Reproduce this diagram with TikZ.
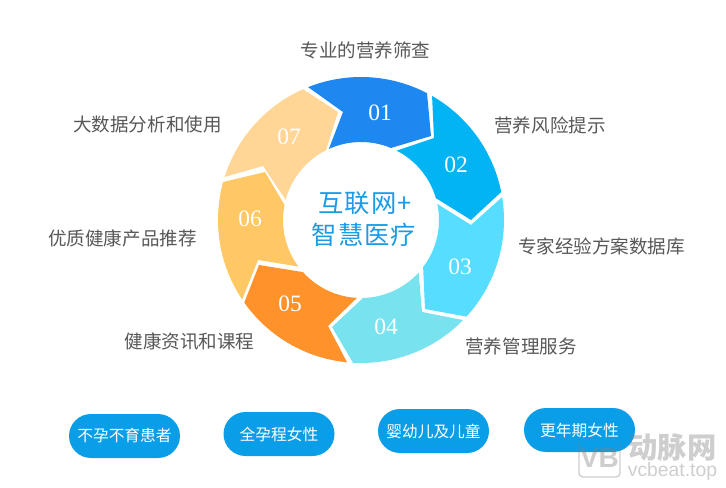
\documentclass[tikz,border=0pt]{standalone}
\usepackage{fontspec}
\setmainfont{Noto Sans CJK SC}
\newfontfamily\numfont{Liberation Serif}
\newfontfamily\latinfont{Liberation Sans}
\definecolor{txt}{HTML}{595757}
\definecolor{ctr}{HTML}{1A9BE6}
\definecolor{pill}{HTML}{0A9EE8}
\definecolor{sa}{HTML}{1E88F0}
\definecolor{sb}{HTML}{03B4F4}
\definecolor{sc}{HTML}{57DDFF}
\definecolor{sd}{HTML}{78E3EE}
\definecolor{se}{HTML}{FF922B}
\definecolor{sf}{HTML}{FFC864}
\definecolor{sg}{HTML}{FFD695}
\newcommand{\seg}[7]{\fill[#1] ([shift={(#2:143)}]c) arc[start angle=#2,end angle=#3,radius=143] -- #4 -- ([shift={(#5:78)}]c) arc[start angle=#5,end angle=#6,radius=78] -- #7 -- cycle;}
\tikzset{
 lab/.style={text=txt,inner sep=0pt,font=\fontsize{13.9pt}{16pt}\selectfont},
 num/.style={text=white,inner sep=0pt,font=\numfont\fontsize{17.6pt}{20pt}\selectfont},
 mid/.style={text=ctr,inner sep=0pt,font=\addfontfeature{LetterSpace=4}\fontsize{19pt}{22pt}\selectfont},
 pillbox/.style={fill=pill,rounded corners=22*.75pt,minimum width=111*.75pt,minimum height=44*.75pt,text=white,inner sep=0pt,font=\fontsize{11.8pt}{14pt}\selectfont},
 wmark/.style={text=black!50,opacity=.38,inner sep=0pt}
}
\begin{document}
\begin{tikzpicture}[x=.75pt,y=.75pt]
\useasboundingbox (0,0) rectangle (726,487);
\fill[white] (0,0) rectangle (726,487);
\coordinate (c) at (361,267);
\seg{sa}{111.7}{62.5}{(431,351)}{67.4}{114.3}{(343,375)}
\seg{sb}{60.2}{11.3}{(471,267)}{16.3}{62.8}{(434,349)}
\seg{sc}{9.2}{-42.5}{(425,178)}{-37.2}{11.9}{(471,262)}
\seg{sd}{-44.4}{-93.2}{(332,160)}{-88.5}{-42.4}{(422,175)}
\seg{se}{-95.6}{-144.7}{(259,222)}{-138.1}{-93}{(328,161)}
\seg{sf}{-146.2}{-195.4}{(265,315)}{-191.2}{-143.4}{(258,227)}
\seg{sg}{162.5}{113.9}{(338,375)}{116.6}{165}{(263,321)}
\node[num] (n1) at (380,374) {01};
\node[num] (n2) at (456,322) {02};
\node[num] (n3) at (460,220) {03};
\node[num] (n4) at (386,160) {04};
\node[num] (n5) at (290,183) {05};
\node[num] (n6) at (250,268) {06};
\node[num] (n7) at (289,350) {07};
\node[mid] (m1) at (365,284) {互联网+};
\node[mid] (m2) at (364,252) {智慧医疗};
\node[lab] (l1) at (365.5,437) {专业的营养筛查};
\node[lab] (l2) at (550,362) {营养风险提示};
\node[lab] (l3) at (601.5,241) {专家经验方案数据库};
\node[lab] (l4) at (521,141) {营养管理服务};
\node[lab] (l5) at (189.5,145) {健康资讯和课程};
\node[lab] (l6) at (122.5,249) {优质健康产品推荐};
\node[lab] (l7) at (147.5,363) {大数据分析和使用};
\node[pillbox] (p1) at (124.5,51) {不孕不育患者};
\node[pillbox] (p2) at (279,53) {全孕程女性};
\node[pillbox] (p3) at (433.5,56) {婴幼儿及儿童};
\node[pillbox] (p4) at (579.5,57) {更年期女性};
\draw[black!50,opacity=.38,line width=1pt,rounded corners=3pt] (579,45) -- (579,10) -- (620,10) -- (620,45);
\node[wmark,font=\latinfont\bfseries\fontsize{21pt}{22pt}\selectfont] (w0) at (599.5,29) {VB};
\node[wmark,font=\bfseries\fontsize{22pt}{24pt}\selectfont] (w1) at (672.5,39) {动脉网};
\node[wmark,font=\latinfont\fontsize{14.5pt}{16pt}\selectfont] (w2) at (672.5,16) {vcbeat.top};
\end{tikzpicture}
\end{document}
